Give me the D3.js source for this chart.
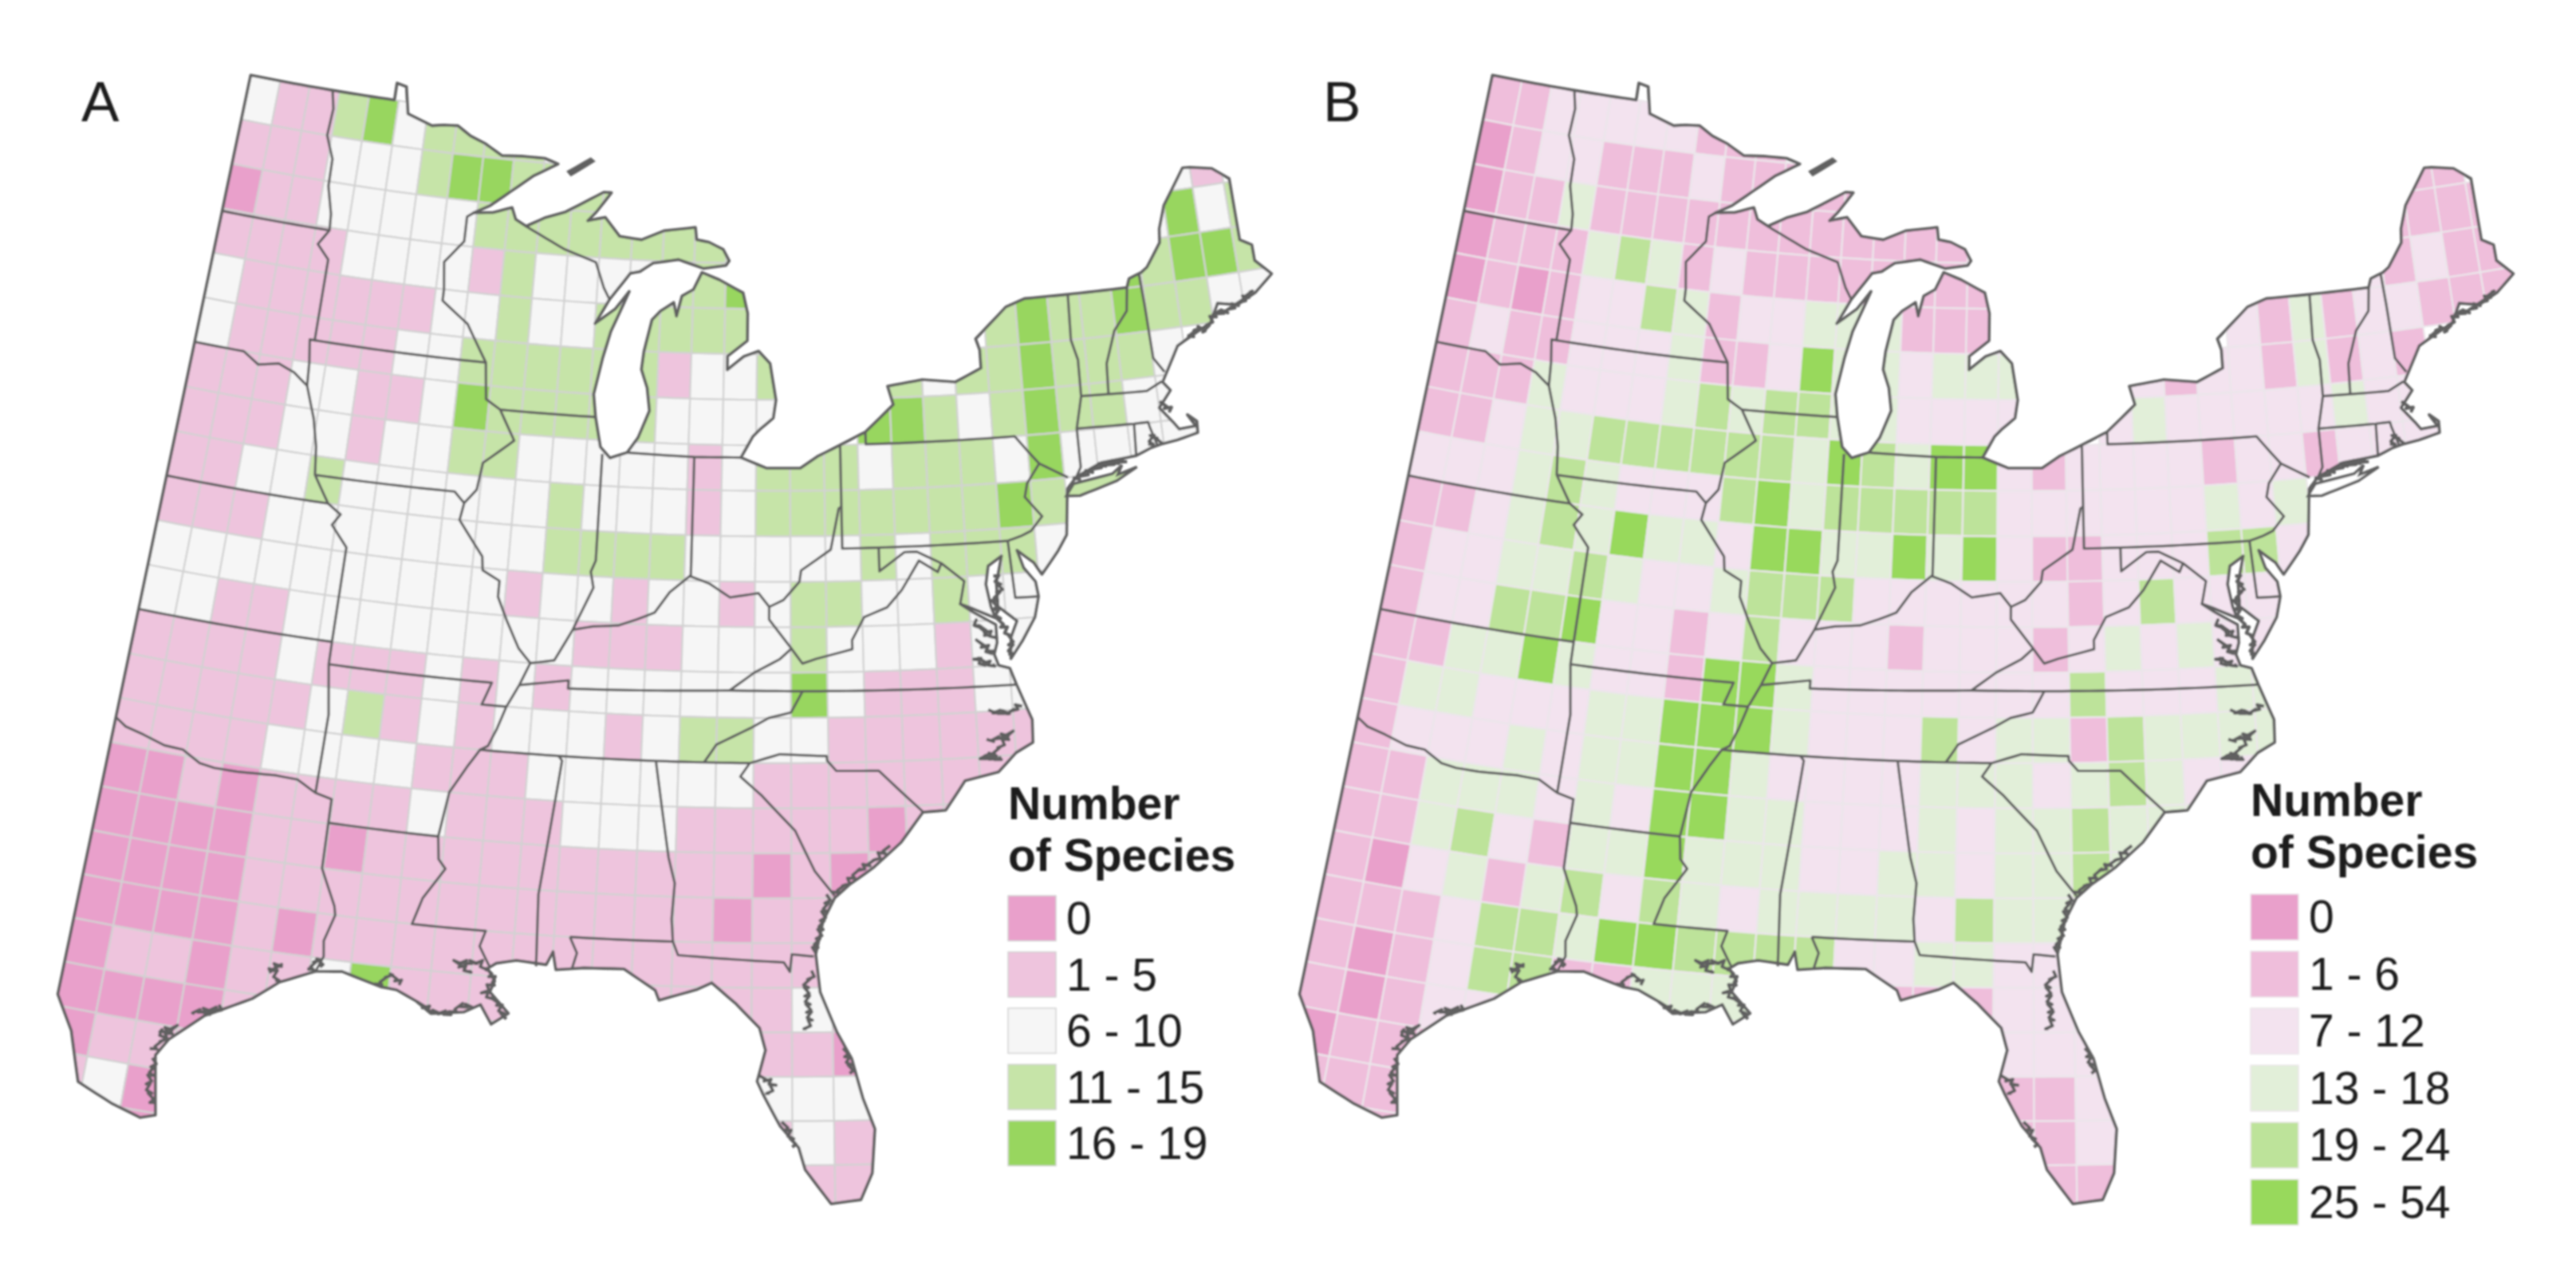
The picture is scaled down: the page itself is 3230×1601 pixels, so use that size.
<!DOCTYPE html>
<html>
<head>
<meta charset="utf-8">
<script src="https://d3js.org/d3.v7.min.js"></script>
<style>
  html, body { margin: 0; padding: 0; background: #fff; }
  text { font-family: "Liberation Sans", Arial, sans-serif; fill: #1a1a1a; }
</style>
</head>
<body>
<svg id="chart" width="3230" height="1601"></svg>
<script>
// one string per 1 degree row, north to south, one class code per 1 degree column from 100W eastward
const rowLats = d3.range(48, 24, -1);
const westLon = -100;

const cellsA = [
  "2113423333",
  "11122234433333................21",
  "01122222333333333............2423",
  "111122221322223343..........434433",
  "211111122322333333......343343322",
  "211111223333331223...323343332",
  "111221124333332222..44323433222",
  "111221223322222123332333242222",
  "11223222222322212333333343",
  "11122222222333322222323332",
  "22222222221221221233223222",
  "2211222222221112223222122",
  "1111211121212222224211122",
  "1111123121222123322111111",
  "111122221112222221111111",
  "00101111211122211111011",
  "000011011111111110101",
  "00001111111111110111",
  "00001011111111111111",
  "01101124111111111121",
  "000011111111.....110",
  "0111.............222",
  "1201.............121",
  "1101.............111"
];

const cellsB = [
  "1122222111",
  "01221112111111................11",
  "01131111111111111............1111",
  "011134312111111111..........212111",
  "010122431223331111......213122111",
  "121122231125332333...212213121",
  "111322234344332222..23222223222",
  "112334444443543552122221221222",
  "22234322245344444222222323",
  "11234353325533535211222442",
  "1223343223444222222124222",
  "1224452212422212221232322",
  "1133532215532222222422233",
  "1332223355532224233143333",
  "122232335532222333234322",
  "11333232553322232334333",
  "1134213353332233233433",
  "10231342432333324333",
  "11124435544442233222",
  "10124411333111111222",
  "101222333333.....222",
  "0111.............112",
  "1111.............112",
  "1111.............111"
];

const legendLabelsA = ["0", "1 - 5", "6 - 10", "11 - 15", "16 - 19"];
const legendLabelsB = ["0", "1 - 6", "7 - 12", "13 - 18", "19 - 24", "25 - 54"];
const coloursA = ["#e9a0cb", "#eec4dd", "#f6f6f6", "#c6e4a8", "#98d65e"];
const coloursB = ["#e9a0cb", "#efbedb", "#f3e3ef", "#e2efd9", "#bde39a", "#98d95c"];

// region boundary, clockwise from the north west corner, lon/lat
const outerBoundary = [
  [-100,49],[-95.15,49],[-95.15,49.38],[-94.82,49.33],[-94.64,48.74],[-93.8,48.55],[-93.4,48.6],[-92.95,48.62],[-92.5,48.43],[-92,48.3],[-91.4,48.07],[-90.75,48.1],[-90,48.1],[-89.55,48],
  [-90.3,47.7],[-91,47.3],[-91.6,46.95],[-92.1,46.75],[-91.5,46.8],[-90.9,46.95],[-90.75,46.7],[-90.4,46.57],[-89.8,46.8],[-89.2,46.95],[-88.6,47.2],[-88,47.45],[-87.75,47.45],[-88.2,47],[-88.45,46.8],[-87.9,46.9],[-87.4,46.5],[-86.7,46.45],[-86,46.67],[-85,46.77],[-84.95,46.5],[-84.55,46.45],[-84.1,46.3],[-83.9,46.05],[-84,45.95],[-84.7,45.87],
  [-85.5,46.05],[-86.3,45.95],[-86.7,45.75],[-87,45.7],[-87.6,45.1],[-88,44.55],[-87.4,44.9],[-87,45.3],[-87.5,44.4],[-87.7,43.8],[-87.9,43],[-87.8,42.5],[-87.6,41.85],[-87.3,41.62],[-86.8,41.76],[-86.5,42.1],[-86.2,42.7],[-86.3,43.2],[-86.5,43.6],[-86.45,44],[-86.25,44.7],[-86,44.9],[-85.6,45.1],[-85.5,44.8],[-85.35,45.25],[-85,45.4],[-84.75,45.78],
  [-84.2,45.63],[-83.45,45.35],[-83.3,44.9],[-83.3,44.3],[-83.9,43.95],[-83.9,43.65],[-83.4,43.95],[-82.95,44.07],[-82.6,43.8],[-82.42,43],[-82.5,42.6],[-82.9,42.35],[-83.1,42.2],[-83.45,41.73],
  [-82.7,41.5],[-81.7,41.5],[-81.2,41.75],[-80.1,42.15],[-79.76,42.27],[-78.9,42.85],[-79.05,43.26],[-78,43.37],[-77,43.28],[-76.2,43.55],[-76.2,43.95],[-76.3,44.2],[-75.3,44.85],[-74.7,45],[-71.5,45.01],[-71.4,45.2],[-71,45.3],[-70.8,45.4],[-70.3,45.9],[-70.25,46.2],[-70,46.7],[-69.23,47.46],[-69,47.45],[-68.3,47.35],[-67.8,47.07],[-67.8,45.7],[-67.45,45.55],[-67.45,45.2],[-67,44.85],
  [-67.6,44.5],[-68.2,44.3],[-68.8,44.4],[-69.1,44],[-69.8,43.75],[-70.2,43.6],[-70.6,43.1],[-70.8,42.85],[-70.6,42.65],[-71,42.3],[-70.65,41.95],[-70.5,41.78],[-70,41.8],[-70.2,42.07],[-69.95,41.9],[-69.97,41.65],[-70.6,41.55],[-71.1,41.5],[-71.4,41.45],[-71.85,41.32],[-72.9,41.25],[-73.65,41],[-73.95,40.75],[-74,40.45],[-74.1,39.75],[-74.4,39.4],[-74.9,38.93],[-75.1,39.2],[-75.55,39.5],[-75.4,39.1],[-75.1,38.78],[-75.05,38.45],[-75.2,38],[-75.6,37.5],[-75.95,37.13],
  [-75.9,37.6],[-75.7,37.95],[-76.2,38.3],[-76.2,38.8],[-76,39.4],[-76.4,39.2],[-76.5,38.8],[-76.4,38.3],[-76.3,38.05],[-76.95,38.3],[-77.25,38.4],[-76.9,38.2],[-76.3,37.9],[-76.3,37.5],[-76.4,37.25],[-76.3,37],[-76,36.92],[-75.85,36.55],[-75.5,35.75],[-75.53,35.25],[-76,35.05],[-76.5,34.65],[-77.4,34.5],[-77.95,33.87],[-78.55,33.85],[-79.15,33.2],[-79.9,32.65],[-80.5,32.3],[-80.9,32],[-81.2,31.5],[-81.4,30.75],[-81.3,29.9],[-80.9,29],[-80.55,28.4],[-80.3,27.5],[-80.03,26.8],[-80.12,25.8],[-80.4,25.2],[-81.1,25.12],[-81.7,25.9],[-81.85,26.4],[-82.3,26.9],[-82.7,27.6],[-82.85,27.9],[-82.65,28.6],[-82.8,29.1],[-83.4,29.65],[-84,30.1],[-84.35,29.95],[-85.3,29.68],[-85.4,29.9],[-86.2,30.35],[-87.2,30.33],[-87.9,30.25],[-88,30.65],[-88.15,30.35],[-88.9,30.4],[-89.4,30.3],[-89.6,30.17],[-89.4,29.9],[-89.5,29.65],[-89,29.2],[-89.4,28.93],[-89.7,29.35],[-90.1,29.15],[-90.9,29.05],[-91.3,29.3],[-91.8,29.5],[-92.2,29.53],[-93.2,29.77],[-93.85,29.7],[-94.7,29.35],[-95.3,28.9],[-96.4,28.35],[-97.15,27.7],[-97.4,27.3],[-97.15,25.96],[-97.5,25.85],[-98.2,26.05],[-99.1,26.4],[-99.5,27.5],[-100,28.25],[-100,49]
];

const longIsland = [[-74,40.6],[-73.75,40.85],[-72.6,40.98],[-72.3,41.15],[-72.45,40.95],[-71.87,41.07],[-72.5,40.82],[-73.6,40.58],[-74,40.6]];
const isleRoyale = [[-89.2,47.85],[-88.5,48.17],[-88.4,48.12],[-89.1,47.78],[-89.2,47.85]];

// thick, broken stretches of shore: bays, sounds, river mouths
const roughShores = [
  [[-69.8,43.75],[-69.5,43.95],[-69.3,43.85],[-69.1,44.05],[-68.9,44.2],[-68.6,44.2],[-68.3,44.3],[-68,44.4],[-67.7,44.55]],
  [[-81.05,32.05],[-81.2,31.6],[-81.3,31.2],[-81.45,30.8]],
  [[-80.9,32.1],[-80.5,32.4],[-80.3,32.6],[-79.9,32.8],[-79.5,33.1]],
  [[-81.45,30.35],[-81.65,30.1],[-81.6,29.6],[-81.55,29.25],[-81.7,29.05]],
  [[-80.7,28.6],[-80.55,28.1]],
  [[-82.75,28],[-82.45,27.85],[-82.6,27.6]],
  [[-82.2,26.95],[-82.05,26.7],[-81.95,26.45]],
  [[-94,29.7],[-93.85,30],[-93.7,29.85]],
  [[-92.3,29.55],[-92,29.85],[-91.7,29.65]],
  [[-91.2,29.25],[-90.8,29.1],[-90.4,29.1],[-90.2,29.3],[-89.95,29.3]],
  [[-90,30.05],[-90.4,30.25],[-89.8,30.3],[-89.6,30.1]],
  [[-89.6,30.15],[-89.4,29.9],[-89.65,29.65],[-89.25,29.4],[-89.1,29.1]],
  [[-94.75,29.35],[-94.9,29.7],[-94.7,29.75],[-95,29.55]],
  [[-96.4,28.4],[-96,28.6],[-96.7,28.4]],
  [[-97.2,27.7],[-97.4,27.85],[-97.05,28],[-97.5,27.4]],
  [[-97.4,27.2],[-97.45,26.6],[-97.25,26.2]],
  [[-76.7,35.35],[-76.1,35.5],[-76.6,35.05],[-76.9,35],[-76.4,34.95]],
  [[-76.6,36],[-76.1,35.95],[-75.8,36.1]],
  [[-75.95,37.2],[-75.9,37.6],[-76.2,38],[-76.3,38.4],[-76.1,38.7],[-76.2,39]],
  [[-76.4,37],[-76.9,37.2],[-76.7,37.05]],
  [[-76.4,37.3],[-76.8,37.55],[-76.5,37.3]],
  [[-76.3,37.6],[-76.9,38],[-76.5,37.65]],
  [[-71.4,41.5],[-71.3,41.75],[-71.1,41.55]],
  [[-70.9,42.4],[-70.65,42.2]],
  [[-73.7,40.95],[-72.9,41.2],[-72.2,41.25]]
];

const stateLines = [
  [[-100,45.94],[-96.56,45.94]],
  [[-97.23,49],[-97.1,48.6],[-97.15,48],[-96.85,47.5],[-96.83,46.9],[-96.6,46.3],[-96.56,45.94],[-96.85,45.6],[-96.45,45.3],[-96.45,43.5],[-96.6,43.5],[-96.5,43],[-96.45,42.49]],
  [[-100,43],[-98.5,43],[-98,42.77],[-97.4,42.87],[-96.9,42.73],[-96.45,42.49],[-96.1,41.8],[-95.9,41.2],[-95.8,40.58],[-95.3,40],[-94.9,39.8],[-95.1,39.55],[-94.6,39.1],[-94.62,37],[-94.62,36.5],[-94.43,35.4],[-94.48,33.64]],
  [[-96.45,43.5],[-91.22,43.5]],
  [[-95.77,40.58],[-91.73,40.61],[-91.42,40.38]],
  [[-94.62,36.5],[-90.15,36.5],[-90.37,36],[-89.7,36]],
  [[-100,40],[-95.3,40]],
  [[-100,37],[-94.62,37]],
  [[-100,34.56],[-99.7,34.4],[-99.2,34.3],[-98.6,34.15],[-98.1,34.13],[-97.6,33.9],[-97.2,33.85],[-96.6,33.85],[-95.6,33.9],[-95,33.88],[-94.48,33.64],[-94.04,33.55],[-94.04,32],[-93.6,31.2],[-93.55,31],[-93.75,30.4],[-93.7,30.05],[-93.85,29.7]],
  [[-94.04,33.02],[-91.17,33]],
  [[-92.1,46.75],[-92.3,46.65],[-92.3,46.1],[-92.85,45.6],[-92.75,45],[-92.75,44.75],[-91.9,44.3],[-91.22,43.5],[-91.1,42.7],[-90.65,42.5],[-90.15,41.85],[-90.3,41.75],[-91,41.3],[-91.1,40.7],[-91.42,40.38],[-91.5,40],[-90.75,39.25],[-90.7,38.95],[-90.2,38.75],[-90.2,38.4],[-89.9,37.9],[-89.5,37.3],[-89.15,37],[-89.4,36.5],[-89.7,36],[-89.9,35.5],[-90.1,35.1],[-90.3,35],[-90.6,34.6],[-91,34],[-91.17,33],[-91.1,32.5],[-90.9,32.3],[-91.4,31.6],[-91.6,31],[-89.73,31],[-89.85,30.65],[-89.55,30.2]],
  [[-90.65,42.5],[-87.8,42.5]],
  [[-87.53,41.7],[-87.53,39.35],[-87.65,39.1],[-87.55,38.75],[-87.95,38],[-88.05,37.8]],
  [[-89.15,37],[-88.5,37.1],[-88.05,37.8],[-87.5,37.9],[-86.8,37.95],[-86.3,38.1],[-85.8,38.27],[-85.4,38.73],[-84.85,39.1],[-84.3,38.95],[-83.7,38.65],[-82.9,38.75],[-82.6,38.45],[-82.2,38.6],[-81.75,39],[-81.7,39.25],[-80.85,39.7],[-80.6,40.6],[-80.52,40.64]],
  [[-84.82,41.72],[-84.82,39.1]],
  [[-86.82,41.76],[-84.82,41.72],[-83.45,41.73]],
  [[-80.52,41.98],[-80.52,39.72],[-75.79,39.72]],
  [[-79.76,42.27],[-79.76,42],[-75.35,42],[-74.95,41.6],[-74.7,41.36],[-75.1,40.95],[-75.2,40.65],[-74.75,40.2],[-75.1,39.9],[-75.42,39.8],[-75.79,39.72]],
  [[-74.7,41.36],[-73.9,41]],
  [[-73.65,41],[-73.5,41.2],[-73.5,42.05],[-73.27,42.75],[-73.25,43.55],[-73.4,44],[-73.35,45.01]],
  [[-71.5,45.01],[-71.6,44.5],[-72.05,44.1],[-72.4,43.4],[-72.45,42.73]],
  [[-73.27,42.75],[-71.3,42.7],[-70.82,42.87]],
  [[-71.08,45.3],[-71.03,44.6],[-70.98,43.4],[-70.7,43.07]],
  [[-73.5,42.05],[-71.8,42.02],[-71.38,42.02],[-71.35,41.9],[-71.2,41.5]],
  [[-71.8,42.02],[-71.85,41.32]],
  [[-82.6,38.45],[-82.6,38.17],[-82,37.55],[-81.68,37.2],[-81.3,37.3],[-80.3,37.5],[-80.3,37.7],[-79.95,38.2],[-79.3,38.4],[-78.87,38.77],[-78.35,39.4],[-77.83,39.13],[-77.72,39.32],[-78.4,39.6],[-78.75,39.6],[-79.48,39.2],[-79.48,39.72]],
  [[-77.72,39.32],[-77.1,38.9],[-77.25,38.4]],
  [[-75.79,39.72],[-75.7,38.46],[-75.05,38.45]],
  [[-75.87,36.55],[-81.68,36.59],[-83.67,36.6],[-88.07,36.5],[-88.07,36.68],[-89.4,36.5]],
  [[-83.67,36.6],[-83,37],[-82.3,37.3],[-81.97,37.54]],
  [[-81.68,36.59],[-82,36.12],[-82.6,36],[-83.1,35.77],[-84,35.4],[-84.32,35]],
  [[-90.3,35],[-83.1,35]],
  [[-88.2,35],[-88.1,34.9],[-88.47,31.9],[-88.4,30.3]],
  [[-85.6,34.98],[-85.18,32.87],[-85,32.3],[-85.05,31.5],[-85,31]],
  [[-87.6,31],[-85,31],[-84.86,30.7],[-82.2,30.57],[-82.05,30.36],[-82,30.75],[-81.45,30.7]],
  [[-87.6,31],[-87.4,30.65],[-87.5,30.3]],
  [[-83.1,35],[-83.35,34.7],[-82.8,34.3],[-81.9,33.5],[-81.4,32.6],[-80.9,32.05]],
  [[-83.1,35],[-82.3,35.2],[-81.05,35.15],[-81.04,35.05],[-80.8,34.82],[-79.67,34.8],[-78.55,33.86]],
  [[-90.4,46.57],[-89.1,46.13],[-88.1,45.9],[-87.8,45.35],[-87.6,45.1]]
];

const albers = d3.geoConicEqualArea()
  .parallels([33, 50])
  .rotate([82.3, 0])
  .center([0, 37])
  .scale(3244)
  .translate([976, 841]);

// the published map is a touch wider than a plain conic
const stretchX = d3.scaleLinear([1034, 2034], [1037, 2056]);
const stretchY = d3.scaleLinear([514, 1514], [517.5, 1514]);
const projection = c => {
  const p = albers(c);
  return [stretchX(p[0]), stretchY(p[1])];
};

// add points along a lon/lat ring so parallels keep their curve
function densify(coords, step = 0.25) {
  const out = [];
  coords.forEach((c, i) => {
    if (i === 0) { out.push(c); return; }
    const p = coords[i - 1];
    const steps = Math.max(1, Math.ceil(Math.max(Math.abs(c[0] - p[0]), Math.abs(c[1] - p[1])) / step));
    for (let k = 1; k <= steps; k++) {
      out.push([p[0] + (c[0] - p[0]) * k / steps, p[1] + (c[1] - p[1]) * k / steps]);
    }
  });
  return out;
}

const line = d3.line().curve(d3.curveLinear);
const toPath = coords => line(densify(coords).map(projection));

// broken shore: step from side to side of the line
const toRoughPath = coords => line(densify(coords, 0.07).map(projection).map((p, i) => [p[0] + (i % 2 ? 3 : -3), p[1] + (i % 3 ? 2 : -2)]));

const svg = d3.select("#chart");
const defs = svg.append("defs");
defs.append("filter").attr("id", "soft")
  .attr("filterUnits", "userSpaceOnUse")
  .attr("x", -1600).attr("y", 0)
  .attr("width", 4900).attr("height", 1601)
  .append("feGaussianBlur").attr("stdDeviation", 0.9);
defs.append("clipPath").attr("id", "region-clip")
  .append("path").attr("d", toPath(outerBoundary) + "Z");

function drawPanel(opts) {
  const g = svg.append("g")
    .attr("transform", `translate(${opts.dx},0)`)
    .attr("filter", "url(#soft)");

  const colour = d3.scaleOrdinal(d3.range(opts.colours.length), opts.colours);

  const cells = [];
  opts.rows.forEach((row, r) => {
    row.split("").forEach((code, c) => {
      if (code !== ".") cells.push({ lat: rowLats[r], lon: westLon + c, cls: +code });
    });
  });

  g.append("g").attr("clip-path", "url(#region-clip)")
    .selectAll("path").data(cells).join("path")
    .attr("d", d => toPath([[d.lon, d.lat], [d.lon + 1, d.lat], [d.lon + 1, d.lat + 1], [d.lon, d.lat + 1], [d.lon, d.lat]]) + "Z")
    .attr("fill", d => colour(d.cls))
    .attr("stroke", opts.gridColour)
    .attr("stroke-width", 2.2);

  g.append("path").attr("d", toPath(outerBoundary) + "Z")
    .attr("fill", "none").attr("stroke", "#606060").attr("stroke-width", 3.6).attr("stroke-linejoin", "round");

  g.append("path").attr("d", toPath(longIsland) + "Z")
    .attr("fill", opts.islandFill).attr("stroke", "#606060").attr("stroke-width", 3.5);
  g.append("path").attr("d", toPath(isleRoyale) + "Z")
    .attr("fill", "#606060").attr("stroke", "#606060").attr("stroke-width", 3);

  g.selectAll("path.rough").data(roughShores).join("path").attr("class", "rough")
    .attr("d", toRoughPath)
    .attr("fill", "none").attr("stroke", "#606060").attr("stroke-width", 4).attr("stroke-linejoin", "round");

  g.selectAll("path.state").data(stateLines).join("path").attr("class", "state")
    .attr("d", toPath)
    .attr("fill", "none").attr("stroke", "#606060").attr("stroke-width", 3.2).attr("stroke-linejoin", "round");

  g.append("text").attr("x", 102).attr("y", 152).attr("font-size", 71).text(opts.letter);

  // legend
  const lg = svg.append("g").attr("filter", "url(#soft)");
  const titleSize = 57;
  lg.append("text").attr("x", opts.legendX).attr("y", opts.titleY).attr("font-size", titleSize).attr("font-weight", "bold").text("Number");
  lg.append("text").attr("x", opts.legendX).attr("y", opts.titleY + 65).attr("font-size", titleSize).attr("font-weight", "bold").text("of Species");

  const y = d3.scaleBand().domain(opts.labels).range([opts.swatchTop, opts.swatchTop + opts.labels.length * opts.pitch]);
  lg.selectAll("rect").data(opts.labels).join("rect")
    .attr("x", opts.legendX).attr("y", d => y(d))
    .attr("width", 60).attr("height", opts.pitch - 14)
    .attr("fill", (d, i) => colour(i))
    .attr("stroke", opts.gridColour).attr("stroke-width", 1.5);
  lg.selectAll("text.lab").data(opts.labels).join("text").attr("class", "lab")
    .attr("x", opts.legendX + 73).attr("y", d => y(d) + 48)
    .attr("font-size", 57).text(d => d);
}

drawPanel({
  dx: 0, rows: cellsA, colours: coloursA, gridColour: "#d2d2d2", islandFill: "#c6e4a8", letter: "A",
  labels: legendLabelsA, legendX: 1264, titleY: 1027, swatchTop: 1123, pitch: 70.5
});
drawPanel({
  dx: 1557, rows: cellsB, colours: coloursB, gridColour: "#ebe6ea", islandFill: "#ffffff", letter: "B",
  labels: legendLabelsB, legendX: 2822, titleY: 1023, swatchTop: 1121, pitch: 71.5
});
</script>
</body>
</html>
